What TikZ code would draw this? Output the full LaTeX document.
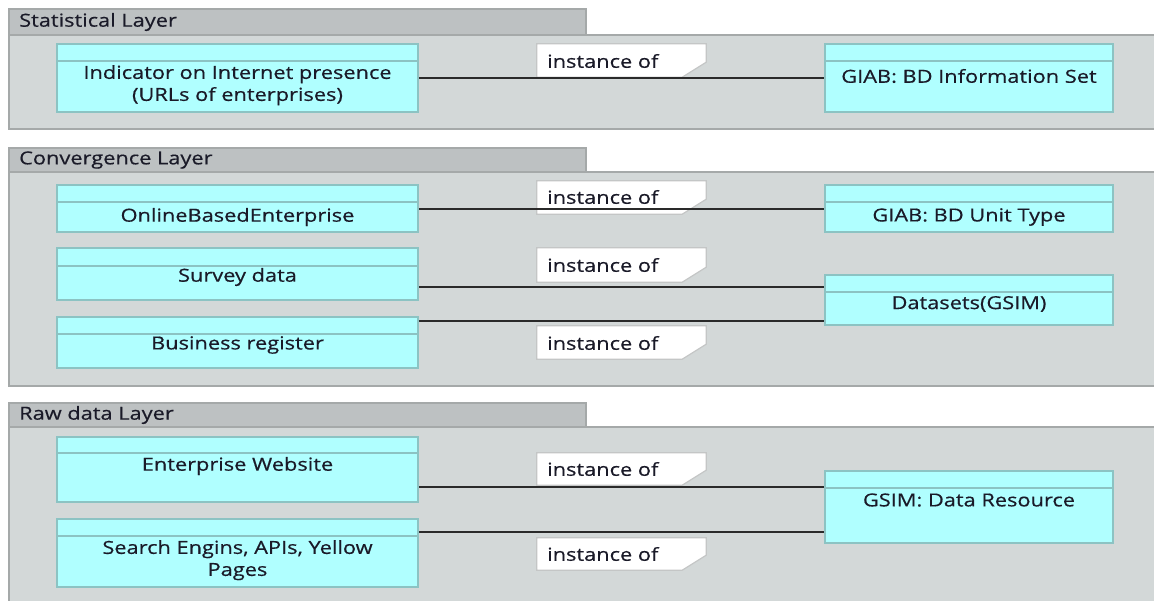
\documentclass[tikz,border=0pt]{standalone}
\usepackage{fontspec}
\setmainfont{Open Sans}[FakeStretch=1.21,FakeBold=0.5]
\usetikzlibrary{fit}
\definecolor{panelfill}{HTML}{D3D8D8}
\definecolor{panelborder}{HTML}{A5A9A9}
\definecolor{tabfill}{HTML}{BDC1C2}
\definecolor{boxfill}{HTML}{B0FFFF}
\definecolor{boxborder}{HTML}{8CC3C3}
\definecolor{lblborder}{HTML}{C4C6C6}
\definecolor{textcol}{HTML}{1A1A28}
\definecolor{conncol}{HTML}{2A2A2A}
\tikzset{
  panelbody/.style={draw=panelborder, fill=panelfill, line width=1.2pt, inner sep=0pt},
  tabbox/.style={draw=panelborder, fill=tabfill, line width=1.2pt, inner sep=0pt},
  tabtxt/.style={anchor=west, inner sep=0pt, text=textcol, font=\fontsize{18}{22}\selectfont},
  clsbox/.style={draw=boxborder, fill=boxfill, line width=1.6pt, inner sep=0pt},
  hdrline/.style={draw=boxborder, line width=1.6pt},
  clstxt/.style={inner sep=0pt, align=center, text=textcol, font=\fontsize{18}{22}\selectfont},
  lblbox/.style={inner sep=0pt},
  lblshape/.style={draw=lblborder, fill=white, line width=1.2pt},
  lbltxt/.style={anchor=west, inner sep=0pt, text=textcol, font=\fontsize{18}{22}\selectfont},
  conn/.style={draw=conncol, line width=1.4pt}
}
\newcommand\instlabel[5]{% name, x1, y1, x2, y2
  \node[lblbox, fit={(#2,#3) (#4,#5)}] (#1) {};
  \draw[lblshape] (#1.north west) -- (#1.north east) -- ([yshift=15pt]#1.south east)
     -- ([xshift=-24pt]#1.south east) -- (#1.south west) -- cycle;
}
\begin{document}
\begin{tikzpicture}[x=1pt,y=-1pt]
\clip (0,0) rectangle (1154,600);
\fill[white] (0,0) rectangle (1154,600);

% ---------- Statistical Layer ----------
\node[panelbody, fit={(9,35) (1170,129)}] (p1) {};
\node[tabbox, fit={(9,9) (586,35)}] (t1) {};
\node[tabtxt] (t1t) at (19,22) {Statistical Layer};

\node[clsbox, fit={(57,44) (418,112)}] (ind) {};
\draw[hdrline] (ind.west |- 0,61) -- (ind.east |- 0,61);
\node[clstxt, anchor=north] (indt) at (ind.north |- 0,65) {Indicator on Internet presence\\(URLs of enterprises)};

\node[clsbox, fit={(825,44) (1113,112)}] (info) {};
\draw[hdrline] (info.west |- 0,61) -- (info.east |- 0,61);
\node[clstxt] (infot) at (info.north |- 0,76) {GIAB: BD Information Set};

\instlabel{l1}{537}{44}{706}{77}

% ---------- Convergence Layer ----------
\node[panelbody, fit={(9,172) (1170,386)}] (p2) {};
\node[tabbox, fit={(9,148) (586,172)}] (t2) {};
\node[tabtxt] (t2t) at (19,160) {Convergence Layer};

\node[clsbox, fit={(57,185) (418,232)}] (obe) {};
\draw[hdrline] (obe.west |- 0,202) -- (obe.east |- 0,202);
\node[clstxt] (obet) at (obe.north |- 0,217) {OnlineBasedEnterprise};

\node[clsbox, fit={(825,185) (1113,232)}] (unit) {};
\draw[hdrline] (unit.west |- 0,202) -- (unit.east |- 0,202);
\node[clstxt] (unitt) at (unit.north |- 0,217) {GIAB: BD Unit Type};

\node[clsbox, fit={(57,248) (418,300)}] (surv) {};
\draw[hdrline] (surv.west |- 0,266) -- (surv.east |- 0,266);
\node[clstxt] (survt) at (surv.north |- 0,277) {Survey data};

\node[clsbox, fit={(825,275) (1113,325)}] (ds) {};
\draw[hdrline] (ds.west |- 0,292) -- (ds.east |- 0,292);
\node[clstxt] (dst) at (ds.north |- 0,304) {Datasets(GSIM)};

\node[clsbox, fit={(57,317) (418,368)}] (bus) {};
\draw[hdrline] (bus.west |- 0,334) -- (bus.east |- 0,334);
\node[clstxt] (bust) at (bus.north |- 0,345) {Business register};

\instlabel{l2}{537}{181}{706}{214}
\instlabel{l3}{537}{248}{706}{282}
\instlabel{l4}{537}{326}{706}{359}

% ---------- Raw data Layer ----------
\node[panelbody, fit={(9,427) (1170,620)}] (p3) {};
\node[tabbox, fit={(9,403) (586,427)}] (t3) {};
\node[tabtxt] (t3t) at (19,415) {Raw data Layer};

\node[clsbox, fit={(57,437) (418,502)}] (web) {};
\draw[hdrline] (web.west |- 0,453) -- (web.east |- 0,453);
\node[clstxt] (webt) at (web.north |- 0,466) {Enterprise Website};

\node[clsbox, fit={(825,471) (1113,543)}] (gsim) {};
\draw[hdrline] (gsim.west |- 0,488) -- (gsim.east |- 0,488);
\node[clstxt] (gsimt) at (gsim.north |- 0,500) {GSIM: Data Resource};

\node[clsbox, fit={(57,519) (418,587)}] (srch) {};
\draw[hdrline] (srch.west |- 0,536) -- (srch.east |- 0,536);
\node[clstxt, anchor=north] (srcht) at (srch.north |- 0,540) {Search Engins, APIs, Yellow\\Pages};

\instlabel{l5}{537}{453}{706}{485}
\instlabel{l6}{537}{538}{706}{570}

% ---------- connectors ----------
\draw[conn] (ind.east |- 0,78) -- (info.west |- 0,78);
\draw[conn] (obe.east |- 0,209) -- (unit.west |- 0,209);
\draw[conn] (surv.east |- 0,287) -- (ds.west |- 0,287);
\draw[conn] (bus.east |- 0,321) -- (ds.west |- 0,321);
\draw[conn] (web.east |- 0,487) -- (gsim.west |- 0,487);
\draw[conn] (srch.east |- 0,532) -- (gsim.west |- 0,532);

% ---------- label texts ----------
\node[lbltxt] (l1t) at (547,61) {instance of};
\node[lbltxt] (l2t) at (547,197) {instance of};
\node[lbltxt] (l3t) at (547,265) {instance of};
\node[lbltxt] (l4t) at (547,343) {instance of};
\node[lbltxt] (l5t) at (547,469) {instance of};
\node[lbltxt] (l6t) at (547,554) {instance of};
\end{tikzpicture}
\end{document}
